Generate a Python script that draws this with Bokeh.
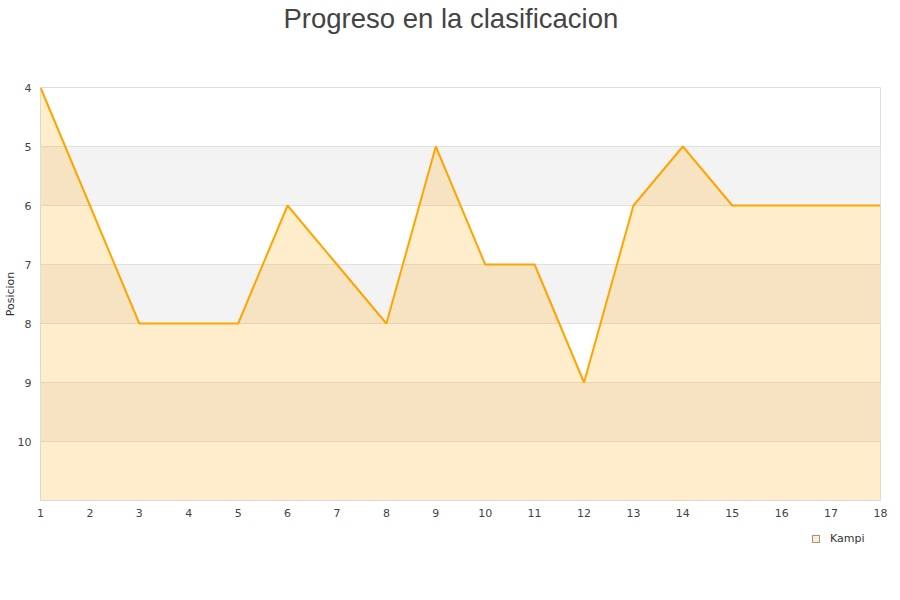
from bokeh.plotting import figure
from bokeh.layouts import column
from bokeh.models import Range1d, FixedTicker, Legend, LegendItem, Title, ColumnDataSource
from bokeh.embed import file_html
from bokeh.resources import INLINE

# Matchday-by-matchday league position
jornadas = list(range(1, 19))
posicion = [4, 6, 8, 8, 8, 6, 7, 8, 5, 7, 7, 9, 6, 5, 6, 6, 6, 6]
equipo = "Kampi"
y_ticks = [4, 5, 6, 7, 8, 9, 10, 11]
fondo = 11

src = ColumnDataSource(dict(x=jornadas, y=posicion, base=[fondo] * len(jornadas)))

p = figure(width=900, height=521, output_backend="svg", toolbar_location=None,
           x_range=Range1d(1, 18), y_range=Range1d(fondo, 4),
           min_border_left=40, min_border_right=20, min_border_bottom=21,
           min_border_top=0, title=None)

# empty spacer title keeps the heading clear of the plot frame
p.add_layout(Title(text=" ", text_font_size="26px", standoff=22), "above")
p.add_layout(Title(text="Progreso en la clasificacion", align="left",
                   text_font="Liberation Sans", text_font_size="27.5px",
                   text_font_style="normal", text_color="#444444",
                   standoff=0, offset=243), "above")

p.outline_line_color = "#dddddd"
p.background_fill_color = "white"
p.border_fill_color = "white"

# horizontal grid with alternating bands
p.xgrid.grid_line_color = None
p.ygrid.ticker = FixedTicker(ticks=y_ticks)
p.ygrid.grid_line_color = "#e0e0e0"
p.ygrid.band_fill_color = "#f3f3f3"
p.ygrid.band_fill_alpha = 1.0

p.xaxis.ticker = FixedTicker(ticks=jornadas)
p.yaxis.ticker = FixedTicker(ticks=y_ticks)
p.yaxis.major_label_overrides = {fondo: ""}
for ax in (p.xaxis, p.yaxis):
    ax.axis_line_color = None
    ax.major_tick_line_color = None
    ax.minor_tick_line_color = None
    ax.major_tick_out = 0
    ax.major_tick_in = 0
    ax.minor_tick_out = 0
    ax.minor_tick_in = 0
    ax.major_label_text_font = "DejaVu Sans"
    ax.major_label_text_font_size = "11px"
    ax.major_label_text_color = "#444444"
p.xaxis.major_label_standoff = 8
p.yaxis.major_label_standoff = 9
p.yaxis.axis_label = "Posicion"
p.yaxis.axis_label_text_font = "DejaVu Sans"
p.yaxis.axis_label_text_font_size = "11px"
p.yaxis.axis_label_text_font_style = "normal"
p.yaxis.axis_label_text_color = "#333333"
p.yaxis.axis_label_standoff = -2

p.varea(x="x", y1="y", y2="base", source=src, fill_color="#ffa500", fill_alpha=0.2)
p.line(x="x", y="y", source=src, line_color="#ffa500", line_width=2)

# legend strip underneath the chart; its swatch renderer shares the series
# source but sits outside this strip's ranges, so only the legend shows
leg = figure(width=900, height=79, output_backend="svg", toolbar_location=None,
             x_range=Range1d(-2, -1), y_range=Range1d(-2, -1),
             x_axis_type=None, y_axis_type=None,
             min_border_left=0, min_border_right=0, min_border_top=0,
             min_border_bottom=0)
leg.outline_line_color = None
leg.xgrid.visible = False
leg.ygrid.visible = False
swatch = leg.quad(left="x", right="x", top="y", bottom="base", source=src,
                  fill_color="#ffa500", fill_alpha=0.2,
                  line_color="#8a8a8a", line_width=1)
legend = Legend(items=[LegendItem(label=equipo, renderers=[swatch])],
                location=(771, 55), orientation="horizontal",
                background_fill_alpha=0, border_line_color=None,
                label_text_font="DejaVu Sans", label_text_font_size="11px",
                label_text_color="#333333", glyph_width=9, glyph_height=9,
                label_height=12, label_standoff=10, padding=4, margin=0)
leg.add_layout(legend, "center")

layout = column(p, leg, spacing=0)
open("out.html", "w").write(file_html(layout, INLINE))
